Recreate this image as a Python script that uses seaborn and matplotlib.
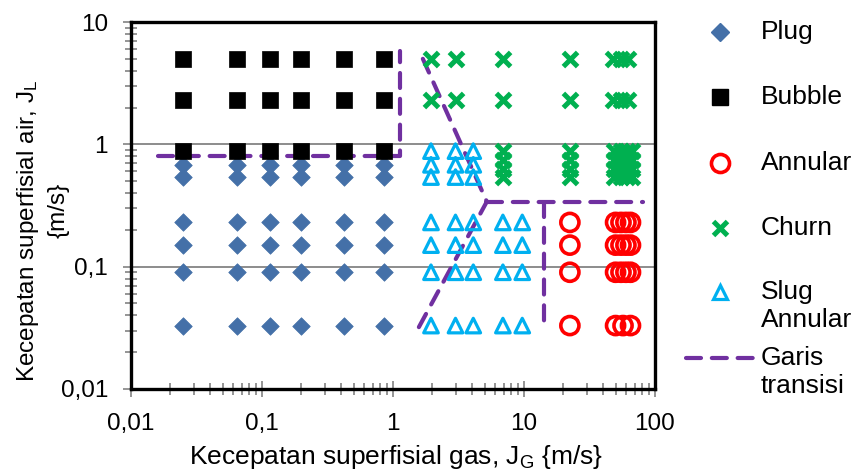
import numpy as np
import pandas as pd
import matplotlib
matplotlib.use("Agg")
import matplotlib.pyplot as plt
from matplotlib.lines import Line2D
import seaborn as sns

# ---------------- data ----------------
plug_x = [0.025, 0.065, 0.115, 0.2, 0.42, 0.85]
plug_y = [0.68, 0.54, 0.23, 0.15, 0.09, 0.033]

bubble_x = [0.025, 0.065, 0.115, 0.2, 0.42, 0.85]
bubble_y = [5.0, 2.3, 0.88]

slug_hi_x = [1.95, 3.0, 4.1]
slug_hi_y = [0.88, 0.68, 0.54]
slug_lo_x = [1.95, 3.0, 4.1, 6.9, 9.7]
slug_lo_y = [0.23, 0.15, 0.09, 0.033]

churn_hi_x = [1.95, 3.0, 6.9, 22.4, 48, 55, 62]
churn_hi_y = [5.0, 2.3]
churn_lo_x = [6.9, 22.4, 49, 55, 61, 67]
churn_lo_y = [0.88, 0.74, 0.63, 0.54]

annular_hi_x = [22.4, 50, 55, 60, 65]
annular_hi_y = [0.23, 0.15, 0.09]
annular_lo_x = [22.4, 50, 57, 65]
annular_lo_y = [0.033]

# transition lines (Garis transisi)
trans_a_x = [0.016, 1.13, 1.13]
trans_a_y = [0.8, 0.8, 5.8]
trans_b_x = [1.69, 5.2, 1.55]
trans_b_y = [5.0, 0.34, 0.031]
trans_c_x = [5.2, 81]
trans_c_y = [0.34, 0.34]
trans_d_x = [14.2, 14.2]
trans_d_y = [0.34, 0.034]

x_ticks = [0.01, 0.1, 1, 10, 100]
x_tick_labels = ["0,01", "0,1", "1", "10", "100"]
y_ticks = [0.01, 0.1, 1, 10]
y_tick_labels = ["0,01", "0,1", "1", "10"]

x_label = r"Kecepatan superfisial gas, J$_\mathregular{G}$ {m/s}"
y_label_1 = r"Kecepatan superfisial air, J$_\mathregular{L}$"
y_label_2 = "{m/s}"
legend_labels = ["Plug", "Bubble", "Annular", "Churn", "Slug\nAnnular", "Garis\ntransisi"]


def grid(xs, ys):
    gx, gy = np.meshgrid(xs, ys)
    return pd.DataFrame({"x": gx.ravel(), "y": gy.ravel()})


plug = grid(plug_x, plug_y)
bubble = grid(bubble_x, bubble_y)
slug = pd.concat([grid(slug_hi_x, slug_hi_y), grid(slug_lo_x, slug_lo_y)])
churn = pd.concat([grid(churn_hi_x, churn_hi_y), grid(churn_lo_x, churn_lo_y)])
annular = pd.concat([grid(annular_hi_x, annular_hi_y), grid(annular_lo_x, annular_lo_y)])

# ---------------- style ----------------
sns.set_style("white")
plt.rcParams["font.family"] = ["Liberation Sans", "DejaVu Sans"]
plt.rcParams["mathtext.fontset"] = "custom"
plt.rcParams["mathtext.rm"] = "Liberation Sans"
plt.rcParams["mathtext.it"] = "Liberation Sans"
plt.rcParams["text.color"] = "black"
plt.rcParams["axes.labelcolor"] = "black"
plt.rcParams["xtick.color"] = "#8c8c8c"
plt.rcParams["ytick.color"] = "#8c8c8c"
plt.rcParams["xtick.labelcolor"] = "black"
plt.rcParams["ytick.labelcolor"] = "black"
plt.rcParams["xtick.direction"] = "inout"
plt.rcParams["ytick.direction"] = "inout"
plt.rcParams["xtick.bottom"] = True
plt.rcParams["ytick.left"] = True
plt.rcParams["xtick.major.size"] = 11
plt.rcParams["ytick.major.size"] = 11
plt.rcParams["xtick.minor.size"] = 9
plt.rcParams["ytick.minor.size"] = 9
plt.rcParams["xtick.major.width"] = 1.3
plt.rcParams["ytick.major.width"] = 1.3
plt.rcParams["xtick.minor.width"] = 1.3
plt.rcParams["ytick.minor.width"] = 1.3

FS_TICK = 17.5
FS_XL = 19
FS_YL = 17.5
FS_LEG = 19
C_PLUG = "#4470A8"
C_BUB = "#000000"
C_ANN = "#FF0000"
C_CHURN = "#00B050"
C_SLUG = "#00B0F0"
C_LINE = "#7030A0"
DASH = (3.6, 2.6)

fig = plt.figure(figsize=(8.54, 4.71), dpi=100)
ax = fig.add_axes([131 / 854, 1 - 389 / 471, (655 - 131) / 854, (389 - 22) / 471])
ax.set_xscale("log")
ax.set_yscale("log")

# grid lines (horizontal only)
for yv in y_ticks:
    ax.axhline(yv, color="#8c8c8c", lw=1.4, zorder=0)

sns.scatterplot(data=plug, x="x", y="y", marker="D", s=80, color=C_PLUG,
                edgecolor=C_PLUG, linewidth=0.5, ax=ax, zorder=3)
sns.scatterplot(data=bubble, x="x", y="y", marker="s", s=135, color=C_BUB,
                edgecolor=C_BUB, linewidth=0.5, ax=ax, zorder=3)

n_before = len(ax.get_lines())
for txs, tys in [(trans_a_x, trans_a_y), (trans_b_x, trans_b_y),
                 (trans_c_x, trans_c_y), (trans_d_x, trans_d_y)]:
    sns.lineplot(x=txs, y=tys, sort=False, estimator=None, ax=ax,
                 color=C_LINE, lw=3.0, zorder=2)
for ln in ax.get_lines()[n_before:]:
    ln.set_dashes(DASH)
    ln.set_dash_capstyle("round")

sns.scatterplot(data=slug, x="x", y="y", marker="^", s=110, facecolor="none",
                edgecolor=C_SLUG, linewidth=2.3, ax=ax, zorder=3)
sns.scatterplot(data=churn, x="x", y="y", marker="x", s=105, color=C_CHURN,
                linewidth=3.6, ax=ax, zorder=3)
sns.scatterplot(data=annular, x="x", y="y", marker="o", s=170, facecolor="none",
                edgecolor=C_ANN, linewidth=2.6, ax=ax, zorder=3)

ax.set_xlim(0.01, 100)
ax.set_ylim(0.01, 10)
ax.set_xticks(x_ticks)
ax.set_xticklabels(x_tick_labels)
ax.set_yticks(y_ticks)
ax.set_yticklabels(y_tick_labels)
ax.tick_params(which="both", bottom=True, left=True, top=False, right=False,
               direction="inout")
ax.tick_params(which="major", labelsize=FS_TICK)
ax.tick_params(axis="y", which="major", pad=11)
ax.tick_params(axis="x", which="major", pad=12)

for side in ["top", "right", "left", "bottom"]:
    ax.spines[side].set_color("black")
    ax.spines[side].set_linewidth(2.4)

ax.set_xlabel("")
ax.set_ylabel("")
fig.text(396 / 854, 1 - 457 / 471, x_label, fontsize=FS_XL, ha="center", va="center")
fig.text(28 / 854, 1 - 231 / 471, y_label_1, fontsize=FS_YL, rotation=90,
         ha="center", va="center")
fig.text(59 / 854, 1 - 210 / 471, y_label_2, fontsize=FS_YL, rotation=90,
         ha="center", va="center")

# ---------------- legend (manual, figure coords) ----------------
mx = 720 / 854
tx = 761 / 854
rows_px = [32, 97, 163, 228, 292, 358]
handles = [
    dict(marker="D", ms=9.5, color=C_PLUG, mfc=C_PLUG, mec=C_PLUG, ls="none"),
    dict(marker="s", ms=11.5, color=C_BUB, mfc=C_BUB, mec=C_BUB, ls="none"),
    dict(marker="o", ms=13, mfc="none", mec=C_ANN, mew=2.6, ls="none"),
    dict(marker="x", ms=10.5, color=C_CHURN, mew=3.6, ls="none"),
    dict(marker="^", ms=10.5, mfc="none", mec=C_SLUG, mew=2.3, ls="none"),
]
for h, ypx in zip(handles, rows_px[:5]):
    fig.add_artist(Line2D([mx], [1 - ypx / 471], transform=fig.transFigure, **h))
ly = 1 - rows_px[5] / 471
fig.add_artist(Line2D([686 / 854, 754 / 854], [ly, ly], transform=fig.transFigure,
                      color=C_LINE, lw=3.0, dashes=DASH, dash_capstyle="round"))
for lab, ypx in zip(legend_labels, rows_px):
    fig.text(tx, 1 - (ypx - 12) / 471, lab, fontsize=FS_LEG, va="top", ha="left",
             linespacing=1.2, color="black")

fig.savefig("out.png", dpi=100)
